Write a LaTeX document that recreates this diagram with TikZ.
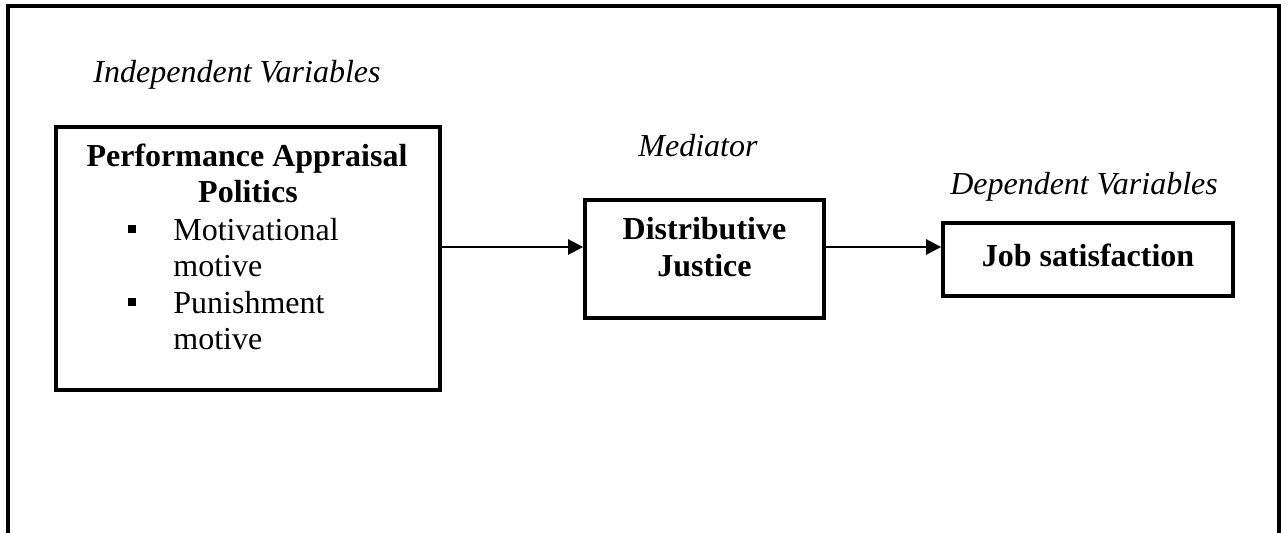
\documentclass[tikz,border=0pt]{standalone}
\usepackage{fontspec}
\setmainfont{Liberation Serif}
\usetikzlibrary{arrows.meta}

\tikzset{
	txt/.style = {font=\fontsize{16}{18.25}\selectfont, inner sep=0pt, anchor=base},
	hdr/.style = {txt, font=\fontsize{16}{18.25}\selectfont\itshape},
	bold/.style = {txt, font=\fontsize{16}{18.25}\selectfont\bfseries},
}

\begin{document}
\begin{tikzpicture}[
	x = 0.5pt, y = -0.5pt,
	varbox/.style = {draw, line width=1.8pt, inner sep=0pt},
	bullet/.style = {fill, inner sep=0pt, minimum size=4pt},
	link/.style = {-{Triangle[length=7.5pt, width=7.5pt]}, line width=1.1pt}
]

\useasboundingbox (0,0) rectangle (1287,533);

% outer frame, open at the bottom
\draw[line width=2pt] (8,533) -- (8,6.5) -- (1279,6.5) -- (1279,533);

% headings
\node[hdr] (indep) at (237,83) {Independent Variables};
\node[hdr] (medi) at (698,157) {Mediator};
\node[hdr] (dep) at (1084,195) {Dependent Variables};

% boxes
\node[varbox, minimum width=192pt, minimum height=131.5pt] (pap) at (248,258.5) {};
\node[varbox, minimum width=119.5pt, minimum height=59pt] (dj) at (704.5,259) {};
\node[varbox, minimum width=145pt, minimum height=36.5pt] (js) at (1088,259.5) {};

% box texts
\node[bold] (papA) at (247,167) {Performance Appraisal};
\node[bold] (papB) at (248,203) {Politics};
\foreach \y/\t [count=\i] in {241/Motivational, 277/motive, 314/Punishment, 350/motive}
	\node[txt, anchor=base west] (papL\i) at (173,\y) {\t};
\foreach \y [count=\i] in {229, 302}
	\node[bullet] (papM\i) at (132,\y) {};

\node[bold] (djA) at (704.5,240) {Distributive};
\node[bold] (djB) at (704.5,277) {Justice};
\node[bold] (jsA) at (1088,267) {Job satisfaction};

% connectors
\coordinate (lvl) at (0,247);
\draw[link] (pap.east |- lvl) -- (dj.west |- lvl);
\draw[link] (dj.east |- lvl) -- (js.west |- lvl);
\end{tikzpicture}
\end{document}
